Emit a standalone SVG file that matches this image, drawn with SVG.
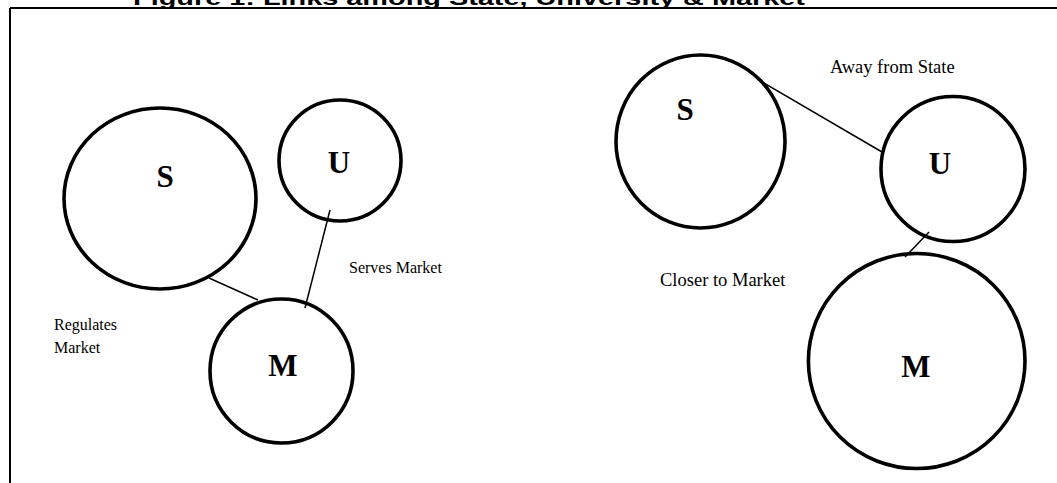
<svg xmlns="http://www.w3.org/2000/svg" width="1057" height="483" viewBox="0 0 1057 483">
<style>
.node{fill:none;stroke:#000;stroke-width:3.6}
.lbl{font-family:"Liberation Serif","Times New Roman",serif;font-weight:bold;font-size:31px;text-anchor:middle;fill:#000}
.txt{font-family:"Liberation Serif","Times New Roman",serif;font-size:18.5px;fill:#000}
.sm{font-family:"Liberation Serif","Times New Roman",serif;font-size:16px;fill:#000}
.conn line{stroke:#000;stroke-width:1.5}
</style>
<rect width="1057" height="483" fill="#fff"/>
<text x="133" y="5" font-family="'Liberation Sans',Arial,sans-serif" font-weight="bold" font-size="20" textLength="672" lengthAdjust="spacingAndGlyphs">Figure 1: Links among State, University &amp; Market</text>
<g id="frame" fill="none" stroke="#000" stroke-width="2">
<line x1="10" y1="8" x2="1057" y2="8"/>
<line x1="10" y1="8" x2="10" y2="483"/>
</g>
<g class="conn" id="connectors">
<line x1="209" y1="278" x2="258" y2="300"/>
<line x1="330" y1="210" x2="305" y2="308"/>
<line x1="762" y1="82" x2="882" y2="152"/>
<line x1="929" y1="232" x2="905" y2="257"/>
</g>
<g id="S1"><ellipse class="node" cx="160" cy="198.5" rx="96" ry="90.5"/><text class="lbl" x="165" y="187">S</text></g>
<g id="U1"><ellipse class="node" cx="340" cy="160.5" rx="61" ry="60.5"/><text class="lbl" x="339" y="173">U</text></g>
<g id="M1"><ellipse class="node" cx="281.5" cy="371" rx="71.5" ry="72"/><text class="lbl" x="283" y="376">M</text></g>
<g id="S2"><ellipse class="node" cx="700.5" cy="141.5" rx="84.5" ry="86.5"/><text class="lbl" x="685" y="120">S</text></g>
<g id="U2"><ellipse class="node" cx="953" cy="169" rx="72" ry="72.5"/><text class="lbl" x="940" y="174">U</text></g>
<g id="M2"><ellipse class="node" cx="916.7" cy="361" rx="108.3" ry="107.5"/><text class="lbl" x="916" y="377">M</text></g>
<text class="sm" x="349" y="273">Serves Market</text>
<text class="sm" x="54" y="330">Regulates</text>
<text class="sm" x="54" y="353">Market</text>
<text class="txt" x="830" y="73">Away from State</text>
<text class="txt" x="660" y="286">Closer to Market</text>
</svg>
